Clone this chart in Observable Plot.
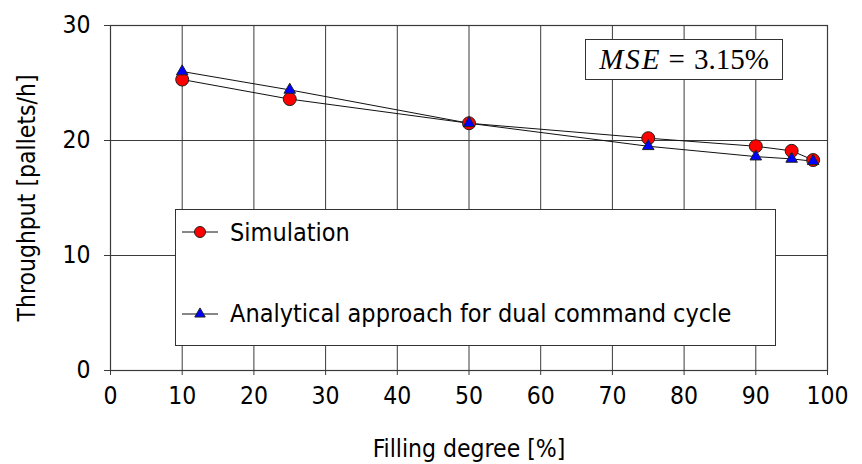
<!DOCTYPE html>
<html>
<head>
<meta charset="utf-8">
<script src="https://cdn.jsdelivr.net/npm/d3@7"></script>
<script src="https://cdn.jsdelivr.net/npm/@observablehq/plot@0.6"></script>
<style>
  html, body { margin: 0; padding: 0; background: #fff; }
  #wrap { position: relative; width: 862px; height: 464px; font-family: 'DejaVu Sans Condensed', 'DejaVu Sans', 'Liberation Sans Narrow', sans-serif; font-stretch: condensed; }
  #legend { position: absolute; left: 175px; top: 209px; width: 601px; height: 137px; border: 1px solid #333; background: #fff; box-sizing: border-box; }
  .entry { position: absolute; left: 0; height: 30px; display: flex; align-items: center; font-size: 25px; color: #000; white-space: nowrap; }
  .entry svg { margin-left: 5px; margin-right: 11px; }
  #mse { position: absolute; left: 585px; top: 39px; width: 198px; height: 41px; border: 1px solid #333; background: #fff; box-sizing: border-box; font-family: 'Liberation Serif', 'DejaVu Serif', serif; font-size: 29px; display: flex; align-items: center; justify-content: center; color: #000; font-stretch: normal; }
</style>
</head>
<body>
<div id="wrap"></div>
<script>
// ---- data ----
const fillingDegree = [10, 25, 50, 75, 90, 95, 98];
const simulation   = [25.3, 23.6, 21.5, 20.2, 19.5, 19.1, 18.3];
const analytical   = [26.0, 24.4, 21.5, 19.5, 18.6, 18.4, 18.2];
const seriesNames  = ["Simulation", "Analytical approach for dual command cycle"];
const xTicks = [0, 10, 20, 30, 40, 50, 60, 70, 80, 90, 100];
const yTicks = [0, 10, 20, 30];
const xLabel = "Filling degree [%]";
const yLabel = "Throughput [pallets/h]";
const mseText = {name: "MSE", value: "3.15%"};

const simData = fillingDegree.map((x, i) => ({x, y: simulation[i]}));
const anaData = fillingDegree.map((x, i) => ({x, y: analytical[i]}));

const gridColor = "#3a3a3a";

const chart = Plot.plot({
  width: 862,
  height: 464,
  marginLeft: 110,
  marginRight: 35,
  marginTop: 25,
  marginBottom: 94,
  style: {fontFamily: "'DejaVu Sans Condensed', 'DejaVu Sans', 'Liberation Sans Narrow', sans-serif", fontSize: "24.5px", background: "#fff", color: "#000"},
  x: {domain: [0, 100]},
  y: {domain: [0, 30]},
  marks: [
    Plot.gridX(xTicks, {stroke: gridColor, strokeOpacity: 1, strokeWidth: 1}),
    Plot.gridY(yTicks, {stroke: gridColor, strokeOpacity: 1, strokeWidth: 1}),
    Plot.frame({stroke: gridColor, strokeWidth: 1.2}),
    Plot.axisX({ticks: xTicks, tickSize: 5, tickPadding: 11, stroke: gridColor, label: xLabel, labelAnchor: "center", labelArrow: "none", labelOffset: 86}),
    Plot.axisY({ticks: yTicks, tickSize: 6, tickPadding: 14, stroke: gridColor, label: yLabel, labelAnchor: "center", labelArrow: "none", labelOffset: 93}),
    Plot.line(simData, {x: "x", y: "y", stroke: "#111", strokeWidth: 1}),
    Plot.line(anaData, {x: "x", y: "y", stroke: "#111", strokeWidth: 1}),
    Plot.dot(simData, {x: "x", y: "y", r: 6.5, fill: "#ff0000", stroke: "#222", strokeWidth: 1}),
    Plot.dot(anaData, {x: "x", y: "y", r: 4.3, symbol: "triangle", fill: "#0000ff", stroke: "#222", strokeWidth: 1})
  ]
});

const wrap = document.getElementById("wrap");
wrap.appendChild(chart);

// legend (overlay inside the plot area)
const legend = document.createElement("div");
legend.id = "legend";
const symbols = [
  `<svg width="38" height="16"><line x1="1" y1="8" x2="37" y2="8" stroke="#111" stroke-width="1"/><circle cx="19" cy="8" r="5.5" fill="#ff0000" stroke="#222" stroke-width="1"/></svg>`,
  `<svg width="38" height="16"><line x1="1" y1="9" x2="37" y2="9" stroke="#111" stroke-width="1"/><path d="${d3.symbol(d3.symbolTriangle, 48)()}" transform="translate(19,9)" fill="#0000ff" stroke="#222" stroke-width="1"/></svg>`
];
const entryTops = [7, 88];
seriesNames.forEach((name, i) => {
  const e = document.createElement("div");
  e.className = "entry";
  e.style.top = entryTops[i] + "px";
  e.innerHTML = symbols[i] + `<span>${name}</span>`;
  legend.appendChild(e);
});
wrap.appendChild(legend);

// MSE annotation box
const mse = document.createElement("div");
mse.id = "mse";
mse.innerHTML = `<span style="font-style:italic;letter-spacing:2px">${mseText.name}</span><span style="margin:0 9px 0 7px">=</span><span>${mseText.value}</span>`;
wrap.appendChild(mse);
</script>
</body>
</html>
